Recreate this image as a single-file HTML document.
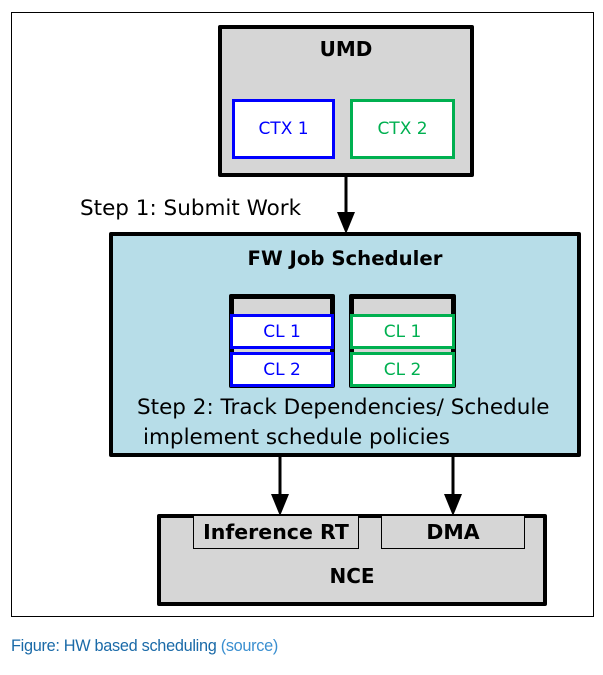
<!DOCTYPE html>
<html><head><style>
body{margin:0;width:603px;height:675px;background:#fff;position:relative;overflow:hidden;font-family:"DejaVu Sans","Liberation Sans",sans-serif;}
div{position:absolute;box-sizing:border-box;}
.c{display:flex;align-items:center;justify-content:center;}
.b{font-weight:bold;}
</style></head><body>
<div style="left:11px;top:12px;width:583px;height:605px;border:1px solid #000;"></div>
<!-- UMD -->
<div style="left:218px;top:25px;width:256px;height:152px;background:#d6d6d6;border:4px solid #000;border-radius:2px;"></div>
<div class="c b" style="left:218px;top:36px;width:256px;height:26px;font-size:20px;">UMD</div>
<div class="c" style="left:232px;top:99px;width:103px;height:60px;background:#fff;border:3px solid #0000ff;color:#0000ff;font-size:17px;">CTX 1</div>
<div class="c" style="left:350px;top:99px;width:105px;height:60px;background:#fff;border:3px solid #00b050;color:#00b050;font-size:17px;">CTX 2</div>
<svg style="position:absolute;left:0;top:0" width="603" height="675">
<line x1="346" y1="177" x2="346" y2="214" stroke="#000" stroke-width="3"/>
<polygon points="337,212 355,212 346,234" fill="#000"/>
<line x1="280" y1="457" x2="280" y2="496" stroke="#000" stroke-width="3"/>
<polygon points="271,494 289,494 280,516" fill="#000"/>
<line x1="453" y1="457" x2="453" y2="496" stroke="#000" stroke-width="3"/>
<polygon points="444,494 462,494 453,516" fill="#000"/>
</svg>
<div style="left:80px;top:196px;font-size:21.5px;white-space:nowrap;">Step 1: Submit Work</div>
<!-- FW -->
<div style="left:109px;top:232px;width:472px;height:225px;background:#b7dde8;border:4px solid #000;border-radius:2px;"></div>
<div class="c b" style="left:109px;top:245px;width:472px;height:26px;font-size:19.7px;">FW Job Scheduler</div>
<div style="left:229px;top:294px;width:106px;height:94px;background:#d6d6d6;border:5px solid #000;border-bottom:2px solid #000;border-radius:2px;"></div>
<div class="c" style="left:230px;top:314px;width:104px;height:35px;background:#fff;border:3px solid #0000ff;color:#0000ff;font-size:17px;">CL 1</div>
<div class="c" style="left:230px;top:352px;width:104px;height:35px;background:#fff;border:3px solid #0000ff;color:#0000ff;font-size:17px;">CL 2</div>
<div style="left:349px;top:294px;width:107px;height:94px;background:#d6d6d6;border:5px solid #000;border-bottom:2px solid #000;border-radius:2px;"></div>
<div class="c" style="left:350px;top:314px;width:105px;height:35px;background:#fff;border:3px solid #00b050;color:#00b050;font-size:17px;">CL 1</div>
<div class="c" style="left:350px;top:352px;width:105px;height:35px;background:#fff;border:3px solid #00b050;color:#00b050;font-size:17px;">CL 2</div>
<div style="left:137px;top:395px;font-size:21.5px;white-space:nowrap;">Step 2: Track Dependencies/ Schedule</div>
<div style="left:143px;top:425px;font-size:21.5px;white-space:nowrap;">implement schedule policies</div>
<!-- NCE -->
<div style="left:157px;top:514px;width:390px;height:92px;background:#d6d6d6;border:4px solid #000;border-radius:2px;"></div>
<div class="c b" style="left:193px;top:516px;width:166px;height:33px;background:#d6d6d6;border:1.5px solid #000;border-top:none;font-size:20.5px;">Inference RT</div>
<div class="c b" style="left:381px;top:516px;width:144px;height:33px;background:#d6d6d6;border:1.5px solid #000;border-top:none;font-size:20.5px;">DMA</div>
<div class="c b" style="left:157px;top:563px;width:390px;height:26px;font-size:20px;">NCE</div>
<div style="left:11px;top:637px;font-size:16.3px;color:#1a6aa8;font-family:'Liberation Sans',sans-serif;letter-spacing:-0.3px;white-space:nowrap;">Figure: HW based scheduling <span style="color:#3a8fd0">(source)</span></div>
</body></html>
